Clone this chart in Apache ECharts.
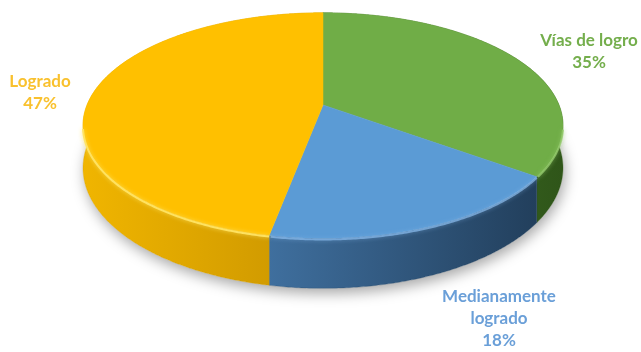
<!DOCTYPE html>
<html><head><meta charset="utf-8">
<script src="https://cdn.jsdelivr.net/npm/echarts@6/dist/echarts.min.js"></script>
<style>html,body{margin:0;padding:0;background:#fff}#c{width:641px;height:352px}</style>
</head><body><div id="c"></div>
<script>
// Data
const categories = ['Vías de logro', 'Medianamente\nlogrado', 'Logrado'];
const values = [35, 18, 47];

// Styling / layout (not data)
const topColors = ['#70AD47', '#5B9BD5', '#FFC000'];
const wallColors = [['#457A2A', '#2F5519'], ['#3F6F9E', '#223F5C'], ['#F0B500', '#C99400']];
const rimColors = ['rgba(150,205,110,0.8)', 'rgba(140,190,240,0.7)', 'rgba(255,228,100,0.95)'];
const labelColors = ['#74AE4C', '#6A9FD8', '#F9C12E'];
const labelAnchors = [[589, 30], [499, 286], [40, 71]];

const G = { cx: 323, cy: 105, rx: 236, ry: 109, a: 0.182, h: 41 };
function proj(theta, depth) {
  const t = theta * Math.PI / 180;
  const u = Math.sin(t), w = -Math.cos(t);
  const p = 1 / (1 - G.a * w);
  return [G.cx + G.rx * u * p, G.cy + G.ry * w * p + (depth || 0) * p];
}
function arc(t1, t2, depth) {
  const pts = [];
  const n = Math.max(2, Math.ceil(Math.abs(t2 - t1) / 0.5));
  for (let i = 0; i <= n; i++) pts.push(proj(t1 + (t2 - t1) * i / n, depth));
  return pts;
}
const total = values.reduce((s, v) => s + v, 0);

function renderItem(params, api) {
  const i = params.dataIndex;
  const v = api.value(0);
  let before = 0;
  for (let k = 0; k < i; k++) before += values[k];
  const t1 = before / total * 360, t2 = (before + v) / total * 360;
  const children = [];
  if (i === 0) {
    children.push({
      type: 'polygon', z2: 0,
      shape: { points: arc(0, 360, G.h) },
      style: { fill: '#fff', shadowBlur: 14, shadowColor: 'rgba(0,0,0,0.35)', shadowOffsetY: 5, shadowOffsetX: 2 }
    });
  }
  const topArc = arc(t1, t2, 0);
  const botArc = arc(t1, t2, G.h).reverse();
  const wc = wallColors[i];
  children.push({
    type: 'polygon', z2: 2,
    shape: { points: topArc.concat(botArc) },
    style: {
      fill: new echarts.graphic.LinearGradient(0, 0, 1, 0, [
        { offset: 0, color: wc[0] }, { offset: 1, color: wc[1] }]),
      stroke: wc[1], lineWidth: 0.3
    }
  });
  children.push({
    type: 'polygon', z2: 10,
    shape: { points: [[G.cx, G.cy]].concat(topArc) },
    style: { fill: topColors[i], stroke: topColors[i], lineWidth: 0.5 }
  });
  // front rim highlight
  const rimPts = [];
  for (let th = t1; th <= t2; th += 0.5) {
    const w = -Math.cos(th * Math.PI / 180);
    if (w > 0.2) rimPts.push(proj(th, 1));
  }
  if (rimPts.length > 1) {
    children.push({
      type: 'polyline', z2: 12, shape: { points: rimPts },
      style: { stroke: rimColors[i], lineWidth: 2, shadowBlur: 4, shadowColor: rimColors[i], fill: null }
    });
  }
  const pct = Math.round(v / total * 100) + '%';
  children.push({
    type: 'text', z2: 20,
    x: labelAnchors[i][0], y: labelAnchors[i][1],
    style: {
      text: categories[i] + '\n' + pct,
      fill: labelColors[i],
      font: 'bold 17px Lato, "Open Sans", sans-serif',
      align: 'center', verticalAlign: 'top', lineHeight: 22
    }
  });
  return { type: 'group', children };
}

const chart = echarts.init(document.getElementById('c'), null, { renderer: 'canvas' });
chart.setOption({
  animation: false,
  backgroundColor: '#fff',
  series: [{
    type: 'custom',
    coordinateSystem: 'none',
    renderItem,
    data: values.map(v => [v])
  }]
});
</script></body></html>
